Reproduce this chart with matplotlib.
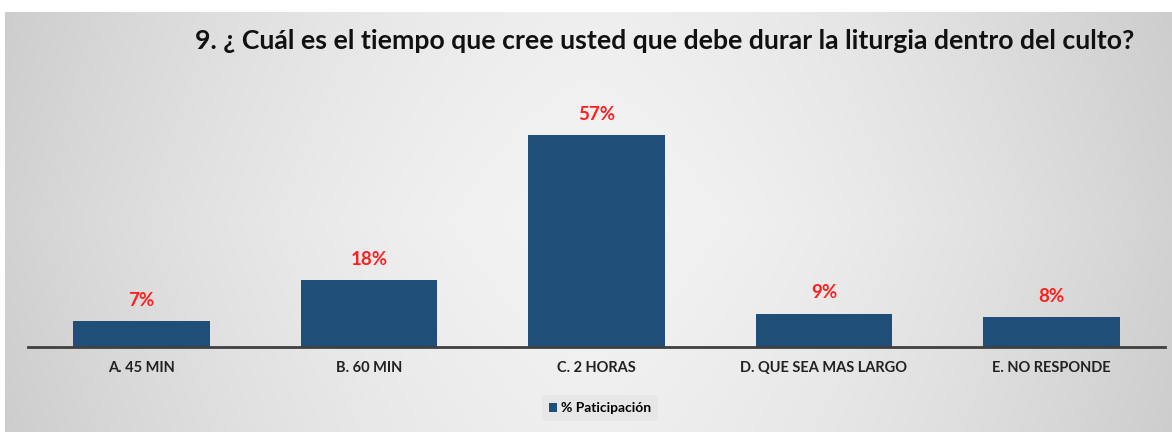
import numpy as np
import matplotlib.pyplot as plt

categories = ['A. 45 MIN', 'B. 60 MIN', 'C. 2 HORAS', 'D. QUE SEA MAS LARGO', 'E. NO RESPONDE']
values = [7, 18, 57, 9, 8]
series_name = '% Paticipación'
title = '9. ¿ Cuál es el tiempo que cree usted que debe durar la liturgia dentro del culto?'

plt.rcParams['font.family'] = ['Lato', 'DejaVu Sans']
bar_color = '#1f4e79'

W, H = 1172, 432
fig = plt.figure(figsize=(W / 100, H / 100), dpi=100)
fig.patch.set_facecolor('white')

# gradient panel behind the chart
bg = fig.add_axes([5 / W, 0, 1 - 5 / W, 1 - 12 / H], zorder=0)
gx = np.linspace(-1, 1, 400)
gy = np.linspace(-1, 1, 150)
X, Y = np.meshgrid(gx, gy)
shade = 0.955 - 0.13 * np.abs(X) ** 1.6 - 0.02 * np.abs(Y)
bg.imshow(np.dstack([shade] * 3), aspect='auto', extent=[0, 1, 0, 1])
bg.axis('off')

ax = fig.add_axes([28 / W, 1 - 347 / H, 1137 / W, (347 - 100) / H], zorder=1)
ax.patch.set_alpha(0)
x = np.arange(len(categories))
bars = ax.bar(x, values, width=0.6, color=bar_color, label=series_name)
for xi, v in zip(x, values):
    ax.text(xi, v + 3.3, '{}%'.format(v), ha='center', va='bottom',
            color='#ff1f1f', fontsize=13.5, fontweight='bold')

ax.set_xlim(-0.5, len(categories) - 0.5)
ax.set_ylim(0, 66.4)
ax.set_yticks([])
ax.set_xticks(x)
ax.set_xticklabels(categories, fontsize=10.5, fontweight='bold', color='#222222')
ax.tick_params(axis='x', length=0, pad=10)
for s in ['top', 'right', 'left']:
    ax.spines[s].set_visible(False)
ax.spines['bottom'].set_color('#404040')
ax.spines['bottom'].set_linewidth(2)

fig.text(665 / W, 1 - 41 / H, title, ha='center', va='center',
         fontsize=19.2, fontweight='bold', color='#111111')

leg = fig.legend(handles=[bars], labels=[series_name], loc='center',
                 bbox_to_anchor=(600 / W, 1 - 408 / H), frameon=True,
                 fontsize=10, handlelength=0.6, handleheight=0.6,
                 handletextpad=0.3, borderpad=0.5)
leg.get_frame().set_facecolor('#e6e6e6')
leg.get_frame().set_edgecolor('none')
for t in leg.get_texts():
    t.set_fontweight('bold')

fig.savefig('out.png', dpi=100)
